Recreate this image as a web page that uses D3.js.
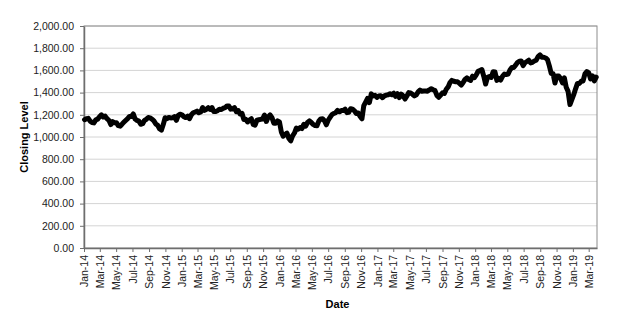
<!DOCTYPE html>
<html>
<head>
<meta charset="utf-8">
<script src="https://cdn.jsdelivr.net/npm/d3@7"></script>
<style>
  body { margin: 0; background: #fff; }
  text { font-family: "Liberation Sans", Arial, sans-serif; }
</style>
</head>
<body>
<div id="chart"></div>
<script>
// weekly closes (Fridays) starting first week of Jan 2014
const firstWeek = "2014-01-03";
const closes2014 = [1156, 1165, 1168, 1143, 1131, 1127, 1154, 1161, 1183, 1200, 1180, 1188, 1165,
    1150, 1112, 1138, 1128, 1129, 1102, 1098, 1115, 1135, 1150, 1165, 1185, 1185,
    1208, 1162, 1150, 1143, 1115, 1120, 1150, 1160, 1175, 1172, 1160, 1145, 1118,
    1105, 1075, 1062, 1112, 1174, 1165, 1176, 1172, 1173, 1184, 1150, 1195, 1205];
const closes2015 = [1200, 1182, 1175, 1188, 1165, 1200, 1218, 1225, 1233, 1218, 1225, 1265, 1240,
    1250, 1264, 1248, 1265, 1229, 1230, 1237, 1251, 1247, 1259, 1264, 1280, 1279,
    1251, 1253, 1265, 1228, 1238, 1207, 1214, 1157, 1159, 1136, 1153, 1165, 1114,
    1107, 1152, 1156, 1159, 1161, 1198, 1140, 1180, 1199, 1174, 1125, 1125, 1145, 1136];
const closes2016 = [1046, 1008, 1023, 1035, 988, 965, 1010, 1036, 1081, 1070, 1085, 1076,
    1114, 1098, 1131, 1145, 1131, 1113, 1103, 1102, 1143, 1163, 1164, 1146, 1110,
    1151, 1177, 1202, 1212, 1219, 1239, 1227, 1238, 1238, 1251, 1219, 1223, 1255, 1251,
    1236, 1212, 1217, 1187, 1164, 1282, 1315, 1347, 1310, 1389, 1370, 1375, 1357];
const closes2017 = [1369, 1372, 1354, 1370, 1377, 1381, 1390, 1380, 1394, 1366, 1390, 1355, 1386,
    1371, 1342, 1370, 1400, 1397, 1385, 1370, 1380, 1406, 1422, 1412, 1414, 1415,
    1413, 1425, 1435, 1426, 1418, 1375, 1358, 1378, 1398, 1392, 1430, 1451, 1490,
    1510, 1502, 1498, 1497, 1485, 1467, 1491, 1519, 1533, 1517, 1509, 1548, 1535];
const closes2018 = [1560, 1592, 1600, 1608, 1547, 1477, 1538, 1545, 1537, 1588, 1585, 1510, 1529,
    1513, 1547, 1567, 1563, 1567, 1604, 1627, 1626, 1647, 1671, 1683, 1685, 1643,
    1669, 1680, 1692, 1667, 1673, 1685, 1692, 1725, 1740, 1718, 1719, 1712, 1697,
    1641, 1572, 1570, 1486, 1550, 1549, 1527, 1488, 1533, 1448, 1411, 1292, 1337];
const closes2019 = [1381, 1434, 1483, 1482, 1502, 1505, 1569, 1590, 1578, 1523, 1550, 1505, 1539];

const yTicks = [0, 200, 400, 600, 800, 1000, 1200, 1400, 1600, 1800, 2000];
const xStart = "2014-01-01", xEnd = "2019-04-01";

const closes = [].concat(closes2014, closes2015, closes2016, closes2017, closes2018, closes2019);
const parse = d3.timeParse("%Y-%m-%d");
const weeks = d3.timeFriday.range(parse(firstWeek), d3.timeDay.offset(parse(firstWeek), 7 * closes.length));
const data = closes.map((v, i) => ({ date: weeks[i], value: v }));

let width = 621, height = 320;
let margins = { top: 26, right: 24, bottom: 72, left: 84 };
let visWidth = width - margins.left - margins.right;
let visHeight = height - margins.top - margins.bottom;

let svg = d3.select("#chart").append("svg").attr("width", width).attr("height", height);
let viewport = svg.append("g").attr("transform", "translate(" + margins.left + "," + margins.top + ")");

const x = d3.scaleTime().domain([parse(xStart), parse(xEnd)]).range([0, visWidth]);
const y = d3.scaleLinear().domain([0, 2000]).range([visHeight, 0]);

// gridlines
viewport.append("g").selectAll("line")
    .data(yTicks.slice(1))
    .enter().append("line")
    .attr("x1", 0).attr("x2", visWidth)
    .attr("y1", d => y(d)).attr("y2", d => y(d))
    .attr("stroke", "#d4d4d4").attr("stroke-width", 1);

// frame
viewport.append("rect")
    .attr("width", visWidth).attr("height", visHeight)
    .attr("fill", "none").attr("stroke", "#8c8c8c").attr("stroke-width", 1);

// y axis
let yAxis = viewport.append("g")
    .call(d3.axisLeft(y).tickValues(yTicks).tickFormat(d3.format(",.2f")).tickSize(4).tickPadding(6).tickSizeOuter(0));
yAxis.select(".domain").attr("stroke", "#6e6e6e").attr("stroke-width", 1.5);
yAxis.selectAll(".tick line").attr("stroke", "#6e6e6e");
yAxis.selectAll("text").attr("fill", "#222").style("font-size", "10.5px");

// x axis
let xAxis = viewport.append("g").attr("transform", "translate(0," + visHeight + ")")
    .call(d3.axisBottom(x).ticks(d3.timeMonth.every(2)).tickFormat(d3.timeFormat("%b-%y")).tickSize(4).tickSizeOuter(0));
xAxis.select(".domain").attr("stroke", "#6e6e6e").attr("stroke-width", 1.5);
xAxis.selectAll(".tick line").attr("stroke", "#6e6e6e");
xAxis.selectAll("text")
    .attr("fill", "#222").style("font-size", "10.5px")
    .attr("transform", "rotate(-90)")
    .attr("text-anchor", "end")
    .attr("x", -7).attr("y", 0).attr("dy", "0.35em");

// line
viewport.append("path")
    .datum(data)
    .attr("fill", "none")
    .attr("stroke", "#000")
    .attr("stroke-width", 5)
    .attr("stroke-linejoin", "round")
    .attr("stroke-linecap", "round")
    .attr("d", d3.line().x(d => x(d.date)).y(d => y(d.value)));

// axis titles
svg.append("text")
    .attr("transform", "translate(28," + (margins.top + visHeight / 2) + ") rotate(-90)")
    .attr("text-anchor", "middle")
    .style("font-size", "11px").style("font-weight", "bold")
    .text("Closing Level");

svg.append("text")
    .attr("x", margins.left + visWidth / 2 - 3).attr("y", 308)
    .attr("text-anchor", "middle")
    .style("font-size", "11px").style("font-weight", "bold")
    .text("Date");
</script>
</body>
</html>
